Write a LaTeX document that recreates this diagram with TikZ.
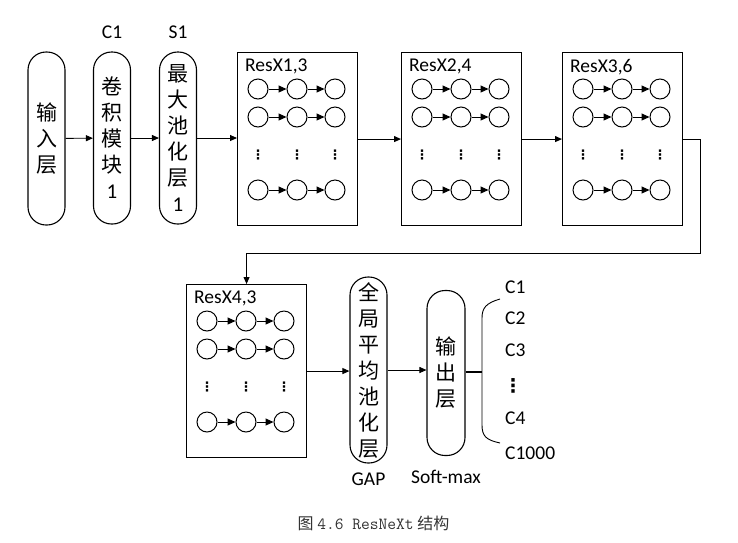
\documentclass[tikz,border=0pt]{standalone}
\usepackage{fontspec}
\setmainfont{Carlito}
\newfontfamily\cjk{Noto Sans CJK SC}
\newfontfamily\symfont{DejaVu Sans}
\usetikzlibrary{arrows.meta, positioning}

\tikzset{
  layer/.style={draw, line width=1.1pt, rounded corners=18pt, minimum width=37pt,
                align=center, inner sep=0pt, font=\cjk\fontsize{21}{26}\selectfont},
  resbox/.style={draw, line width=1.1pt, minimum width=120pt, minimum height=173pt, inner sep=0pt},
  unit/.style={circle, draw, line width=1pt, minimum size=20pt, inner sep=0pt},
  link/.style={-{Triangle[length=8pt, width=7pt]}, line width=1pt},
  flow/.style={-{Triangle[length=7pt, width=6pt]}, line width=0.9pt},
  lbl/.style={inner sep=0pt, font=\fontsize{19.5}{22}\selectfont},
  vdot/.style={inner sep=0pt, font=\symfont\bfseries\fontsize{13}{13}\selectfont},
}

\begin{document}
\begin{tikzpicture}[x=1pt, y=-1pt]
  \useasboundingbox (0,0) rectangle (738,542);
  % first row
  \node[layer, minimum height=173pt] (inp) at (46.5,138.5) {输\\入\\层};
  \node[layer, minimum height=172pt] (conv) at (112,138) {卷\\积\\模\\块\\{\rmfamily 1}};
  \node[layer, minimum height=172pt] (pool) at (178,138) {最\\大\\池\\化\\层\\{\rmfamily 1}};
  \node[lbl, above=13pt of conv] (convlbl) {C1};
  \node[lbl, above=13pt of pool] (poollbl) {S1};
  % residual blocks
  \foreach \b/\x/\y/\name in {1/237/52/{ResX1,3}, 2/401/52/{ResX2,4}, 3/562/52/{ResX3,6}, 4/186/284/{ResX4,3}} {
    \node[resbox, anchor=north west] (r\b) at (\x,\y) {};
    \node[lbl, anchor=north west] (r\b lbl) at ([shift={(8,7)}]r\b.north west) {\name};
    \foreach \r/\dy in {1/37, 2/65, 4/138} {
      \foreach \c/\dx in {1/21, 2/60, 3/98}
        \node[unit] (u\b\r\c) at (\x+\dx,\y+\dy) {};
      \draw[link] (u\b\r1) -- (u\b\r2);
      \draw[link] (u\b\r2) -- (u\b\r3);
    }
    \foreach \c/\dx in {1/21, 2/60, 3/98}
      \node[vdot] (d\b\c) at (\x+\dx,\y+103) {⋮};
  }
  % second row
  \node[layer, minimum height=186pt] (gap) at (368.5,370) {全\\局\\平\\均\\池\\化\\层};
  \node[layer, minimum height=165pt, minimum width=38pt] (out) at (446,373) {输\\出\\层};
  \node[lbl, below=9pt of gap] (gaplbl) {GAP};
  \node[lbl, below=14pt of out] (outlbl) {Soft-max};
  % connectors
  \draw[flow] (inp) -- (conv);
  \draw[flow] (conv) -- (pool);
  \draw[flow] (pool.east) -- (pool.east -| r1.west);
  \draw[flow] (r1.east) -- (r1.east -| r2.west);
  \draw[flow] (r2.east) -- (r2.east -| r3.west);
  \coordinate (bend) at (700,253);
  \draw[flow] (r3.east) -| (bend) -| (r4.north);
  \draw[flow] (r4.east) -- (r4.east -| gap.west);
  \draw[flow] (gap.east) -- (gap.east -| out.west);
  % classes
  \coordinate (bmid) at (482,372);
  \draw[line width=2pt] (bmid -| out.east) -- (bmid);
  \draw[line width=0.9pt] (500,299) .. controls (486,303) and (482,308) .. (482,318)
    -- (482,425) .. controls (482,436) and (486,440) .. (500,443);
  \node[lbl, anchor=west] (k1) at (505,287.5) {C1};
  \node[lbl, anchor=west] (k2) at (505,318.5) {C2};
  \node[lbl, anchor=west] (k3) at (505,350) {C3};
  \node[vdot, font=\symfont\bfseries\fontsize{19}{19}\selectfont] (kdots) at (513,385.5) {⋮};
  \node[lbl, anchor=west] (k4) at (505,418.5) {C4};
  \node[lbl, anchor=west] (k1000) at (505,453.5) {C1000};
  % caption
  \node[font=\fontsize{16}{18}\selectfont, text=black!80] (cap) at (373.5,523)
    {{\cjk 图} {\ttfamily\fontsize{17}{18}\selectfont 4.6 ResNeXt} {\cjk 结构}};
\end{tikzpicture}
\end{document}
